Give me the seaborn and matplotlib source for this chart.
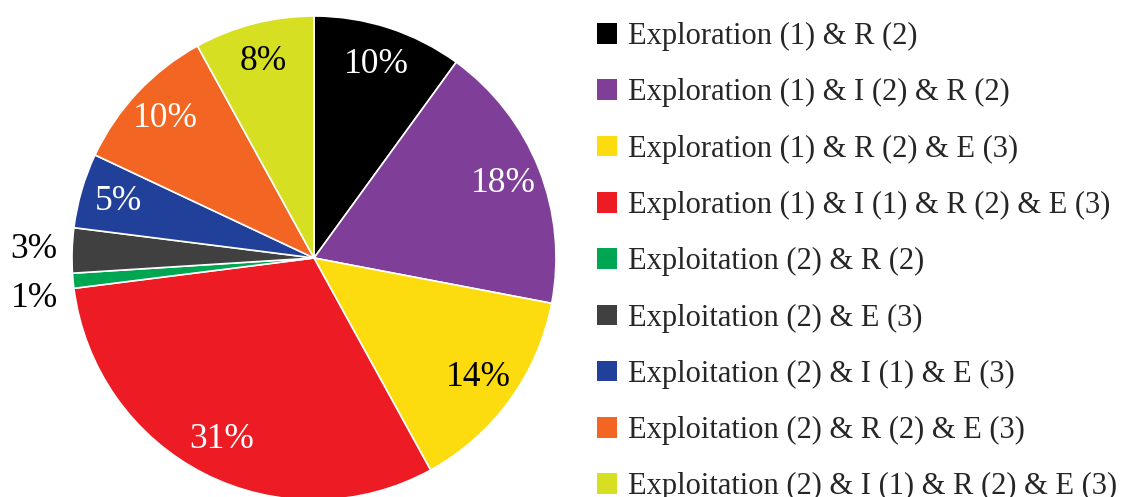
import numpy as np
import matplotlib
matplotlib.use("Agg")
import matplotlib.pyplot as plt
from matplotlib.patches import Patch
import seaborn as sns

categories = [
    "Exploration (1) & R (2)",
    "Exploration (1) & I (2) & R (2)",
    "Exploration (1) & R (2) & E (3)",
    "Exploration (1) & I (1) & R (2) & E (3)",
    "Exploitation (2) & R (2)",
    "Exploitation (2) & E (3)",
    "Exploitation (2) & I (1) & E (3)",
    "Exploitation (2) & R (2) & E (3)",
    "Exploitation (2) & I (1) & R (2) & E (3)",
]
values = [10, 18, 14, 31, 1, 3, 5, 10, 8]
colors = ["#000000", "#7F3F98", "#FCDC0F", "#ED1C24", "#00A651",
          "#404041", "#21409A", "#F26522", "#D7DF23"]
label_colors = ["white", "white", "black", "white", None, None, "white", "white", "black"]

sns.set_theme(style="white")
plt.rcParams["font.family"] = ["Liberation Serif", "DejaVu Serif"]

W, H = 1130, 497
fig = plt.figure(figsize=(W / 100, H / 100), dpi=100)
cx, cy, r = 314, 497 - 258, 242
ax = fig.add_axes([(cx - r) / W, (cy - r) / H, 2 * r / W, 2 * r / H])

wedges, _ = ax.pie(values, colors=colors, startangle=90, counterclock=False,
                   radius=1.0, wedgeprops=dict(edgecolor="white", linewidth=1.2))
ax.set_xlim(-1, 1)
ax.set_ylim(-1, 1)
ax.set_aspect("equal")
ax.axis("off")

for w, v, lc in zip(wedges, values, label_colors):
    mid = np.deg2rad((w.theta1 + w.theta2) / 2)
    if lc is not None:
        d = 0.84
        ax.text(d * np.cos(mid), d * np.sin(mid), f"{v}%", ha="center", va="center",
                color=lc, fontsize=25.5, clip_on=False)
    else:
        d = 1.16
        dy = -0.06 if v == 1 else 0.0
        ax.text(d * np.cos(mid), d * np.sin(mid) + dy, f"{v}%", ha="center", va="center",
                color="black", fontsize=25.5, clip_on=False)

handles = [Patch(facecolor=c, edgecolor="none") for c in colors]
fig.legend(handles, categories, loc="upper left", bbox_to_anchor=(591 / W, 1.0 - 16 / H),
           frameon=False, fontsize=22, handlelength=0.66, handleheight=0.66,
           handletextpad=0.36, labelspacing=0.89, borderaxespad=0, borderpad=0.2)

fig.savefig("out.png", dpi=100)
